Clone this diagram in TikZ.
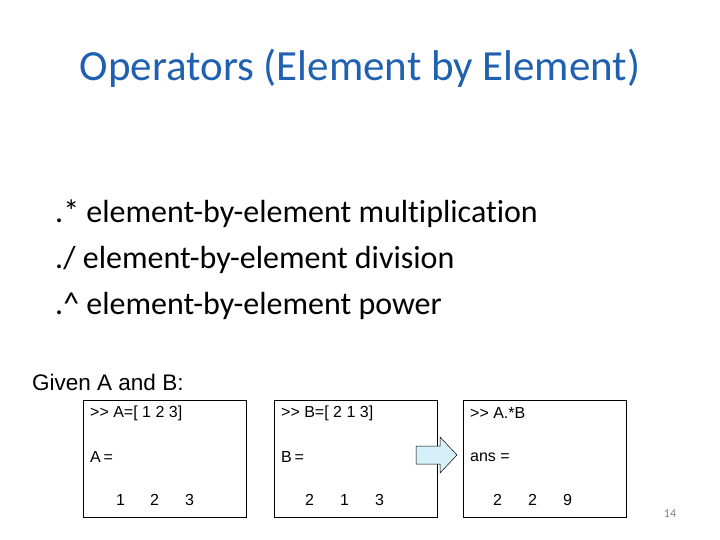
\documentclass[tikz,border=0pt]{standalone}
\usepackage{fontspec}
\setmainfont[Ligatures=NoCommon]{Carlito}
\newfontfamily\arial{Liberation Sans}
\definecolor{titleblue}{RGB}{32,96,176}
\definecolor{arrowfill}{RGB}{214,240,250}
\begin{document}
\begin{tikzpicture}[x=1pt,y=-1pt,
  code/.style={font=\arial\fontsize{16}{19}\selectfont, anchor=west, inner sep=0pt},
  codebox/.style={draw, line width=0.6pt, minimum width=163pt, minimum height=117pt, anchor=north west, inner sep=0pt},
  bodyline/.style={font=\fontsize{32}{38}\selectfont, anchor=west, inner sep=0pt}]
\useasboundingbox (0,0) rectangle (720,540);
\node[font=\fontsize{43}{50}\selectfont, text=titleblue, inner sep=0pt] (title) at (360,68) {Operators (Element by Element)};
\node[bodyline] (l1) at (55,214) {.* element-by-element multiplication};
\node[bodyline] (l2) at (55,260) {./ element-by-element division};
\node[bodyline] (l3) at (55,306) {.\^{} element-by-element power};
\node[font=\arial\fontsize{22.5}{26}\selectfont, anchor=west, inner sep=0pt] (given) at (32,382) {Given A and B:};
\node[codebox] (b1) at (83,400) {};
\node[codebox] (b2) at (274,400) {};
\node[codebox] (b3) at (463,400) {};
\node[code] (a1) at (90,413) {>> A=[ 1 2 3]};
\node[code] (a2) at (90,457) {A\,=};
\node[code] (a3) at (116,500) {1};
\node[code] (a4) at (150,500) {2};
\node[code] (a5) at (185,500) {3};
\node[code] (c1) at (281,413) {>> B=[ 2 1 3]};
\node[code] (c2) at (281,457) {B\,=};
\node[code] (c3) at (305,500) {2};
\node[code] (c4) at (340,500) {1};
\node[code] (c5) at (375,500) {3};
\node[code] (d1) at (470,413) {>> A.*B};
\node[code] (d2) at (470,457) {ans =};
\node[code] (d3) at (493,500) {2};
\node[code] (d4) at (528,500) {2};
\node[code] (d5) at (563,500) {9};
\draw[fill=arrowfill, line width=0.5pt] (416,446) -- (440,446) -- (440,437) -- (457,455) -- (440,473) -- (440,464) -- (416,464) -- cycle;
\node[font=\fontsize{12}{14}\selectfont, text=gray, inner sep=0pt] (pg) at (670,514) {14};
\end{tikzpicture}
\end{document}
